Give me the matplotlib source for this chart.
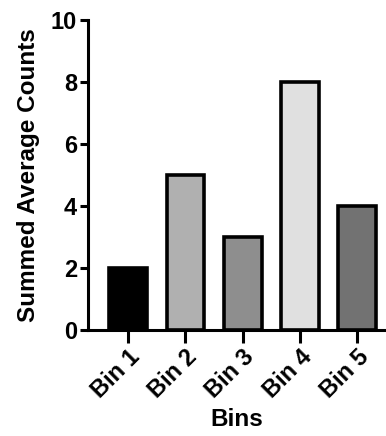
import matplotlib.pyplot as plt

bins = ['Bin 1', 'Bin 2', 'Bin 3', 'Bin 4', 'Bin 5']
counts = [2, 5, 3, 8, 4]
colors = ['#000000', '#b0b0b0', '#8e8e8e', '#e0e0e0', '#727272']

plt.rcParams['font.family'] = 'Liberation Sans'
plt.rcParams['font.weight'] = 'bold'

fig = plt.figure(figsize=(3.86, 4.36), dpi=100)
ax = fig.add_axes([0.228, 0.243, 0.772, 0.711])

ax.bar(range(len(bins)), counts, width=0.66, color=colors, edgecolor='black', linewidth=2.6)

ax.set_xlim(-0.7, 4.5)
ax.set_ylim(0, 10)
ax.set_yticks([0, 2, 4, 6, 8, 10])
ax.set_xticks(range(len(bins)))
ax.set_xticklabels(bins, rotation=45, ha='right', rotation_mode='anchor')

for s in ['top', 'right']:
    ax.spines[s].set_visible(False)
for s in ['left', 'bottom']:
    ax.spines[s].set_linewidth(2.2)

ax.tick_params(axis='y', width=2.2, length=6, labelsize=17, pad=2)
ax.tick_params(axis='x', width=2.2, length=9, labelsize=17, pad=2)
for lab in ax.get_xticklabels() + ax.get_yticklabels():
    lab.set_fontweight('bold')

ax.set_ylabel('Summed Average Counts', fontsize=17.5, fontweight='bold', labelpad=8)
ax.set_xlabel('Bins', fontsize=17.5, fontweight='bold', labelpad=4)

fig.savefig('out.png', dpi=100)
